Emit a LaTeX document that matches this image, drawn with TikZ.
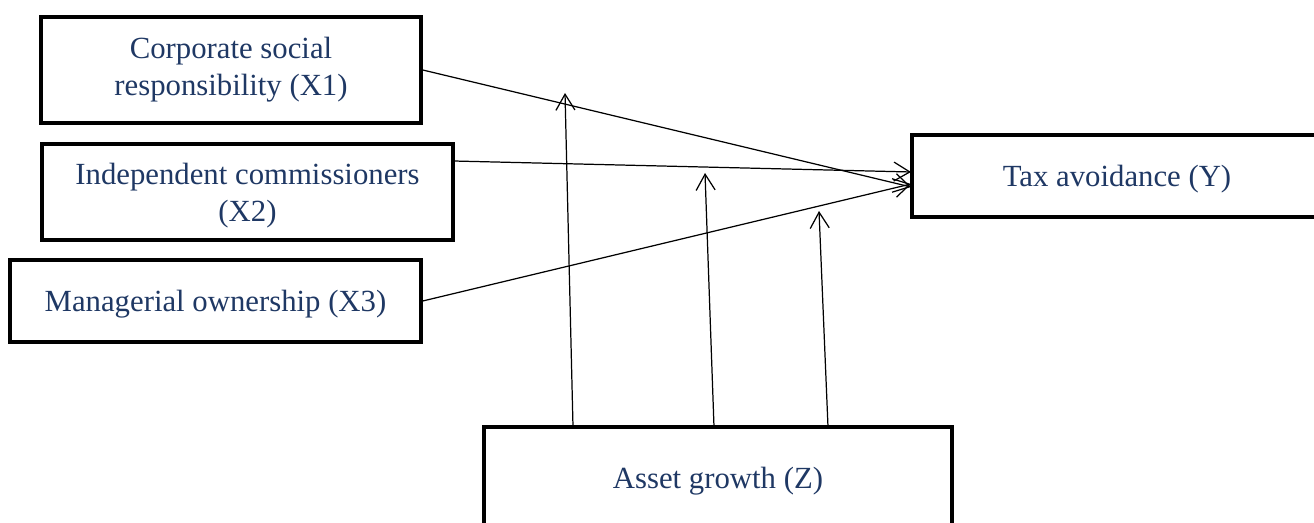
\documentclass[tikz,border=0pt]{standalone}
\usepackage{fontspec}
\setmainfont{Liberation Serif}
\usetikzlibrary{arrows.meta}
\definecolor{textNavy}{RGB}{31,56,100}
\begin{document}
\begin{tikzpicture}[
    varbox/.style={draw=black, line width=2pt, text=textNavy, align=center,
        font=\fontsize{17.5}{21}\selectfont, inner sep=0pt},
    link/.style={line width=0.7pt, -{Straight Barb[length=3.2mm,width=3.8mm]}}
]
    % Area del disegno
    \useasboundingbox (0,0) rectangle (26.28,10.46);
    \begin{scope}
    \clip (0,0) rectangle (26.28,10.46);

    % Variabili indipendenti
    \node[varbox, minimum width=7.6cm, minimum height=2.12cm] (X1) at (4.62,9.06)
        {Corporate social\\responsibility (X1)};
    \node[varbox, minimum width=8.22cm, minimum height=1.92cm, text depth=0pt] (X2) at (4.95,6.62)
        {Independent commissioners\\(X2)};
    \node[varbox, minimum width=8.22cm, minimum height=1.64cm, text depth=0pt] (X3) at (4.31,4.44)
        {Managerial ownership (X3)};

    % Variabile dipendente
    \node[varbox, minimum width=8.2cm, minimum height=1.64cm, text depth=0pt] (Y) at (22.34,6.94)
        {Tax avoidance (Y)};

    % Variabile moderatrice
    \node[varbox, minimum width=9.36cm, minimum height=2.04cm, text depth=0pt] (Z) at (14.36,0.9)
        {Asset growth (Z)};

    % Punti di arrivo
    \coordinate (s2) at (9.06,7.24);
    \coordinate (y1) at (18.22,6.72);
    \coordinate (y2) at (18.22,7.02);
    \coordinate (y3) at (18.22,6.78);
    \coordinate (z1) at (11.46,1.92);
    \coordinate (z2) at (14.28,1.92);
    \coordinate (z3) at (16.56,1.92);
    \coordinate (m1) at (11.30,8.60);
    \coordinate (m2) at (14.10,7.00);
    \coordinate (m3) at (16.38,6.24);

    % Effetti diretti
    \draw[link] (X1.east) -- (y1);
    \draw[link] (s2) -- (y2);
    \draw[link] (X3.east) -- (y3);

    % Moderazione
    \draw[link] (z1) -- (m1);
    \draw[link] (z2) -- (m2);
    \draw[link] (z3) -- (m3);
    \end{scope}
\end{tikzpicture}
\end{document}
